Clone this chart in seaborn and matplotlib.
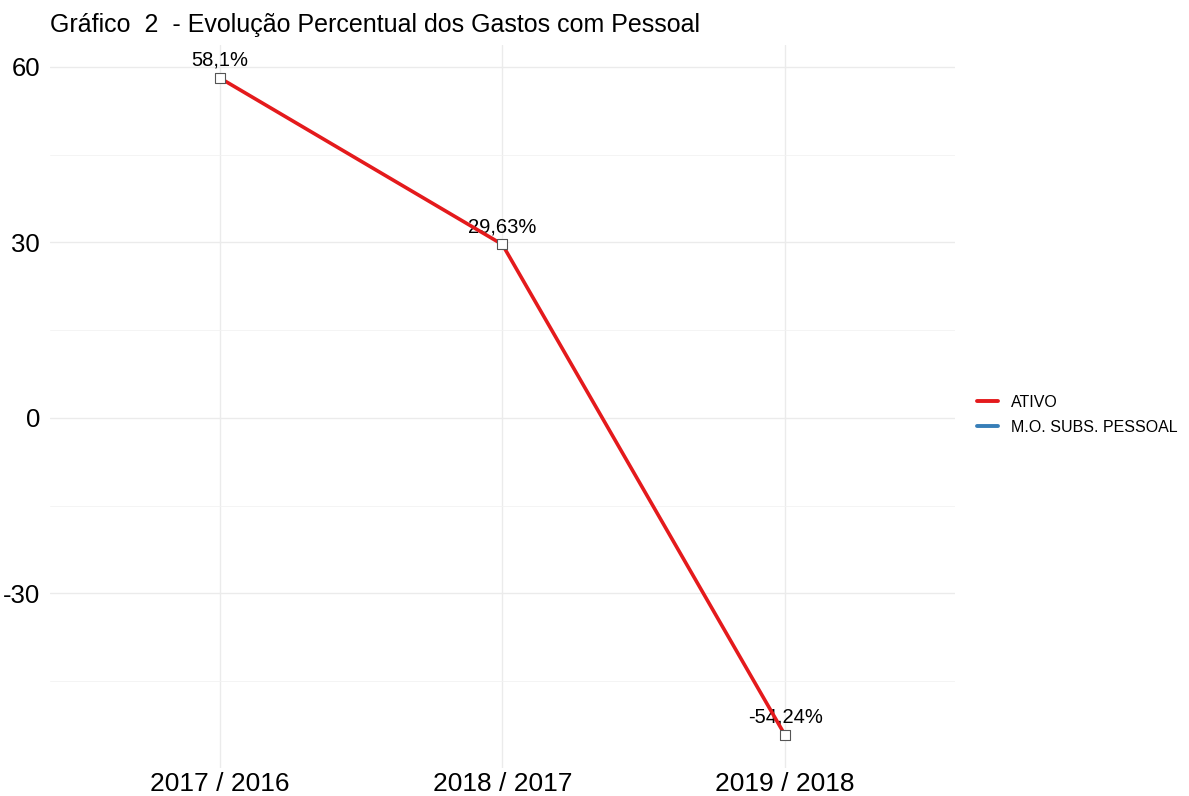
import pandas as pd
import numpy as np
import matplotlib.pyplot as plt
import seaborn as sns
from matplotlib.lines import Line2D

# data
periodos = ["2017 / 2016", "2018 / 2017", "2019 / 2018"]
ativo = [58.1, 29.63, -54.24]
rotulos = ["58,1%", "29,63%", "-54,24%"]
series = ["ATIVO", "M.O. SUBS. PESSOAL"]
cores = ["#E41A1C", "#377EB8"]

df = pd.DataFrame({"periodo": periodos, "valor": ativo, "serie": "ATIVO"})
df["x"] = np.arange(len(periodos))

sns.set_style("white")
plt.rcParams["font.family"] = ["Liberation Sans", "DejaVu Sans"]
plt.rcParams["axes.unicode_minus"] = False

fig = plt.figure(figsize=(11.89, 7.96), dpi=100)
ax = fig.add_axes([0.042, 0.035, 0.761, 0.9085])

sns.lineplot(data=df, x="x", y="valor", color=cores[0], linewidth=2.6,
             ax=ax, legend=False, zorder=3)

# labels above points
for xi, yi, lab in zip(df["x"], df["valor"], rotulos):
    ax.annotate(lab, (xi, yi), xytext=(0, 6), textcoords="offset points",
                ha="center", va="bottom", fontsize=14.5, color="black", zorder=2)

sns.scatterplot(data=df, x="x", y="valor", marker="s", s=55, color="white",
                edgecolor="#555555", linewidth=0.8, ax=ax, legend=False, zorder=4)

ax.set_xlim(-0.6, 2.6)
rng = max(ativo) - min(ativo)
ax.set_ylim(min(ativo) - 0.05 * rng, max(ativo) + 0.05 * rng)
ax.set_xticks(range(len(periodos)))
ax.set_xticklabels(periodos)
ax.set_yticks([-30, 0, 30, 60])
ax.set_yticks([-45, -15, 15, 45], minor=True)
ax.grid(True, which="major", color="#EBEBEB", linewidth=1.0)
ax.grid(True, which="minor", axis="y", color="#F2F2F2", linewidth=0.6)
ax.set_axisbelow(True)
for s in ax.spines.values():
    s.set_visible(False)
ax.tick_params(axis="both", which="both", length=0, labelsize=19, colors="black")
ax.tick_params(axis="y", pad=7, labelsize=18.5)
ax.tick_params(axis="x", pad=3)
ax.set_xlabel("")
ax.set_ylabel("")

handles = [Line2D([0], [0], color=c, linewidth=2.8) for c in cores]
leg = fig.legend(handles, series, loc="center left", bbox_to_anchor=(0.81, 0.479),
                 frameon=False, fontsize=11.5, handlelength=1.3, handletextpad=0.8,
                 labelspacing=0.6)
for t in leg.get_texts():
    t.set_color("black")

fig.text(0.042, 0.968, "Gráfico  2  - Evolução Percentual dos Gastos com Pessoal",
         fontsize=18, ha="left", va="center", color="black")

fig.savefig("out.png", dpi=100)
